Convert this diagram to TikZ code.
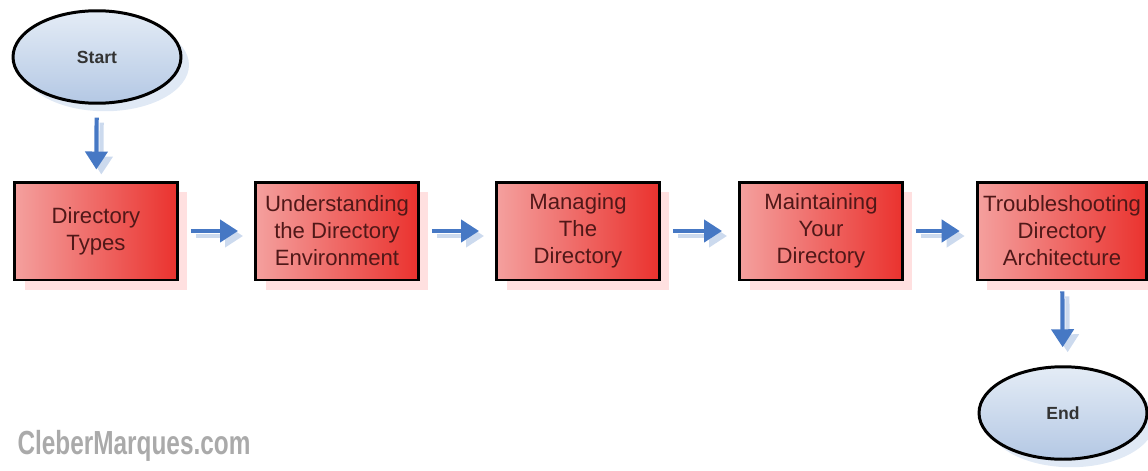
\documentclass[tikz,border=0pt]{standalone}
\usepackage{fontspec}
\setmainfont{Liberation Sans}
\usepackage{xcolor}
\usepackage{tikz}
\usetikzlibrary{shapes.geometric,arrows.meta,positioning,shadows}
\definecolor{boxred}{RGB}{234,50,46}
\definecolor{boxpink}{RGB}{244,160,158}
\definecolor{boxtext}{RGB}{80,24,24}
\definecolor{flowblue}{RGB}{70,120,196}
\definecolor{shadeblue}{RGB}{204,218,238}
\definecolor{ovaltop}{RGB}{228,236,246}
\definecolor{ovalbot}{RGB}{180,200,228}
\definecolor{marqgray}{RGB}{170,170,170}
\tikzset{
  stepbox/.style={rectangle, draw=black, line width=1.7pt, minimum width=3.26cm, minimum height=1.96cm,
    align=center, font=\fontsize{12.6}{15.4}\selectfont, text=boxtext,
    left color=boxpink, right color=boxred,
    drop shadow={shadow xshift=0.2cm, shadow yshift=-0.2cm, fill=red!12, opacity=1}},
  termnode/.style={ellipse, draw=black, line width=1.7pt, minimum width=3.36cm, minimum height=1.85cm,
    font=\fontsize{10}{12}\selectfont\bfseries, text=black!80,
    top color=ovaltop, bottom color=ovalbot,
    drop shadow={shadow xshift=0.16cm, shadow yshift=-0.16cm, fill=shadeblue!60, opacity=1}},
  flowarrow/.style={-{Triangle[length=0.36cm, width=0.44cm]}, line width=2.4pt, draw=flowblue},
  flowshade/.style={flowarrow, draw=shadeblue, transform canvas={xshift=0.1cm, yshift=-0.1cm}},
}

\begin{document}
\begin{tikzpicture}[x=0.02cm, y=-0.02cm]
  \useasboundingbox (0,0) rectangle (1148,470);

  % Start and end ovals
  \node[termnode] (start) at (97,57) {Start};
  \node[termnode] (end) at (1063,413) {End};

  % Steps along the row
  \node[stepbox] (d1) at (96,231) {Directory\\Types};
  \node[stepbox] (d2) at (337,231) {Understanding\\the Directory\\Environment};
  \node[stepbox] (d3) at (578,231) {Managing\\The\\Directory};
  \node[stepbox] (d4) at (821,231) {Maintaining\\Your\\Directory};
  \node[stepbox] (d5) at (1062,231) {Troubleshooting\\Directory\\Architecture};

  % Arrows between steps (shade first)
  \foreach \a/\b in {d1/d2, d2/d3, d3/d4, d4/d5} {
    \draw[flowshade, shorten <=0.24cm, shorten >=0.32cm] (\a) -- (\b);
    \draw[flowarrow, shorten <=0.24cm, shorten >=0.32cm] (\a) -- (\b);
  }
  \draw[flowshade, shorten <=0.26cm, shorten >=0.22cm] (start) -- (d1);
  \draw[flowarrow, shorten <=0.26cm, shorten >=0.22cm] (start) -- (d1);
  \draw[flowshade, shorten <=0.2cm, shorten >=0.36cm] (d5) -- (end);
  \draw[flowarrow, shorten <=0.2cm, shorten >=0.36cm] (d5) -- (end);

  % Watermark
  \node[font=\fontsize{19}{22}\selectfont\bfseries, text=marqgray, xscale=0.73] (mark) at (134,446) {CleberMarques.com};
\end{tikzpicture}
\end{document}
